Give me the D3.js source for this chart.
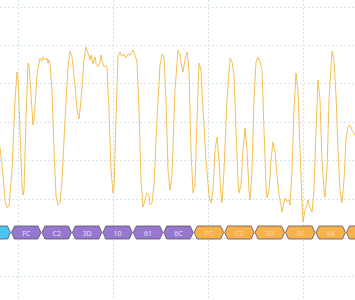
<!DOCTYPE html>
<html lang="en">

<head>
    <meta charset="UTF-8">
    <title>Decoded serial capture</title>
    <script src="https://d3js.org/d3.v7.min.js"></script>
    <style>
        body {
            margin: 0;
            background: #fff;
            font-family: "Noto Sans", "DejaVu Sans", sans-serif;
        }

        .grid line {
            stroke: #d3e5ec;
            stroke-dasharray: 2, 2;
        }

        .trace {
            fill: none;
            stroke: #f2b93f;
            stroke-opacity: 0.9;
            stroke-width: 1;
        }

        .byte text {
            font-size: 7px;
            fill: #f6f0ff;
            text-anchor: middle;
            dominant-baseline: central;
        }
    </style>
</head>

<body>
    <svg width="355" height="300"></svg>

    <script>
        // capture samples (index) and measured level (V)
        const sampleIdx = [0, 3, 5, 7, 9, 12, 15, 17, 18, 20, 22, 23, 24, 26, 28, 29, 31, 33, 34, 37, 40, 42, 43, 45, 47, 48, 49, 50,
            52, 54, 56, 58, 60, 62, 65, 68, 70, 72, 75, 77, 79, 81, 84, 86, 87, 89, 90, 91, 92, 93, 95, 96, 98, 100, 101, 102, 104,
            106, 107, 109, 111, 113, 114, 116, 118, 120, 122, 124, 126, 128, 130, 132, 133, 135, 137, 139, 141, 143, 145, 147, 149,
            150, 152, 154, 157, 160, 162, 164, 166, 168, 170, 172, 175, 178, 180, 182, 183, 185, 187, 189, 191, 193, 195, 197, 199,
            201, 203, 206, 209, 211, 213, 215, 217, 219, 221, 222, 224, 227, 230, 232, 234, 236, 238, 239, 241, 243, 245, 247, 249,
            250, 252, 254, 256, 258, 260, 262, 264, 266, 267, 269, 271, 273, 275, 277, 279, 281, 282, 284, 285, 287, 289, 290, 292,
            294, 296, 298, 300, 302, 303, 305, 307, 308, 310, 312, 314, 316, 318, 320, 322, 324, 325, 327, 329, 332, 334, 336, 338,
            340, 342, 344, 346, 348, 350, 352, 355];
        const volts = [3.35, 2.62, 1.97, 1.77, 1.82, 2.75, 4.57, 5.30, 5.14, 3.79, 2.36, 2.10, 2.23, 4.05, 5.53, 5.48, 4.70, 3.92, 4.05, 5.22, 5.66, 5.58, 5.69, 5.61, 5.66, 5.53, 5.61, 5.48,
            4.83, 3.27, 2.10, 1.84, 1.90, 2.49, 4.05, 5.40, 5.84, 5.69, 4.96, 4.31, 4.08, 4.57, 5.61, 5.95, 5.87, 5.71, 5.61, 5.74, 5.66, 5.51, 5.69, 5.53, 5.43, 5.56, 5.74, 5.61, 5.43,
            5.48, 5.40, 4.31, 2.75, 2.16, 2.29, 4.05, 5.69, 5.82, 5.71, 5.77, 5.66, 5.77, 5.74, 5.82, 5.87, 5.74, 5.56, 4.31, 2.49, 1.79, 1.97, 2.16, 2.10,
            1.84, 1.90, 2.36, 4.05, 5.48, 5.77, 5.69, 4.57, 2.75, 2.23, 2.62, 4.83, 5.87, 5.74, 5.40, 5.30, 5.61, 5.82, 5.35, 3.27, 2.16, 2.36, 4.05, 5.53,
            5.35, 4.31, 3.01, 2.10, 1.90, 2.23, 3.27, 3.61, 3.01, 2.10, 1.90, 2.75, 4.57, 5.66, 5.56, 5.22, 3.79, 2.49, 2.16, 2.36, 3.27, 3.84, 3.27, 2.23,
            1.97, 2.75, 4.57, 5.56, 5.69, 5.56, 5.35, 3.79, 2.36, 2.03, 2.23, 3.01, 3.48, 3.22, 2.62, 2.10, 1.84, 1.66, 1.92, 2.03, 1.92, 1.97, 1.84, 2.75,
            4.31, 5.27, 4.83, 3.27, 1.97, 1.40, 1.71, 1.84, 1.97, 1.77, 1.66, 2.23, 3.79, 5.09, 4.57, 3.01, 2.23, 2.05, 2.75, 4.57, 5.84, 5.61, 4.70, 3.27,
            2.23, 1.90, 2.49, 3.53, 3.87, 3.92, 3.79, 3.66];

        // grid divisions
        const gridSamples = [18, 113, 208, 303];
        const gridVolts = [0, 1, 2, 3, 4, 5, 6, 7];

        // decoded bytes (protocol frames)
        const byteLabels = ["", "FC", "C2", "3D", "10", "61", "6C", "FC", "C2", "3D", "0F", "8A", ""];
        const byteGroup = ["a", "b", "b", "b", "b", "b", "b", "c", "c", "c", "c", "c", "c"];
        const byteStart = -19.45;      // first frame start (samples)
        const bytePeriod = 30.45;      // frame length (samples)

        const groupColor = { a: "#4dc3f1", b: "#9678cf", c: "#f8b24c" };

        const svg = d3.select("svg"),
            width = +svg.attr("width"),
            height = +svg.attr("height");

        const x = d3.scaleLinear().domain([0, 355]).range([0, width]);
        const y = d3.scaleLinear().domain([0, 7]).range([276, 6.5]);

        const grid = svg.append("g").attr("class", "grid");
        grid.selectAll(".v").data(gridSamples).enter().append("line")
            .attr("x1", d => x(d) + 0.5).attr("x2", d => x(d) + 0.5)
            .attr("y1", 0).attr("y2", height);
        grid.selectAll(".h").data(gridVolts).enter().append("line")
            .attr("x1", 0).attr("x2", width)
            .attr("y1", d => Math.round(y(d)) + 0.5).attr("y2", d => Math.round(y(d)) + 0.5);

        const line = d3.line()
            .x((d, i) => x(sampleIdx[i]))
            .y(d => y(d));

        svg.append("path")
            .datum(volts)
            .attr("class", "trace")
            .attr("d", line);

        // decoded lane
        const laneTop = 226, laneBot = 239, laneMid = (laneTop + laneBot) / 2, tip = 3;

        const bytes = svg.append("g").selectAll(".byte")
            .data(byteLabels)
            .enter().append("g")
            .attr("class", "byte");

        bytes.append("path")
            .attr("d", (d, i) => {
                const x0 = x(byteStart + i * bytePeriod) + 0.5,
                    x1 = x(byteStart + (i + 1) * bytePeriod) - 0.5;
                return `M${x0},${laneMid}L${x0 + tip},${laneTop}L${x1 - tip},${laneTop}L${x1},${laneMid}L${x1 - tip},${laneBot}L${x0 + tip},${laneBot}Z`;
            })
            .attr("fill", (d, i) => groupColor[byteGroup[i]])
            .attr("stroke", "#5c5060")
            .attr("stroke-width", 0.8);

        bytes.append("text")
            .attr("x", (d, i) => x(byteStart + (i + 0.5) * bytePeriod))
            .attr("y", laneMid + 0.5)
            .attr("opacity", (d, i) => byteGroup[i] === "c" ? 0.55 : 0.85)
            .text(d => d);
    </script>
</body>

</html>
